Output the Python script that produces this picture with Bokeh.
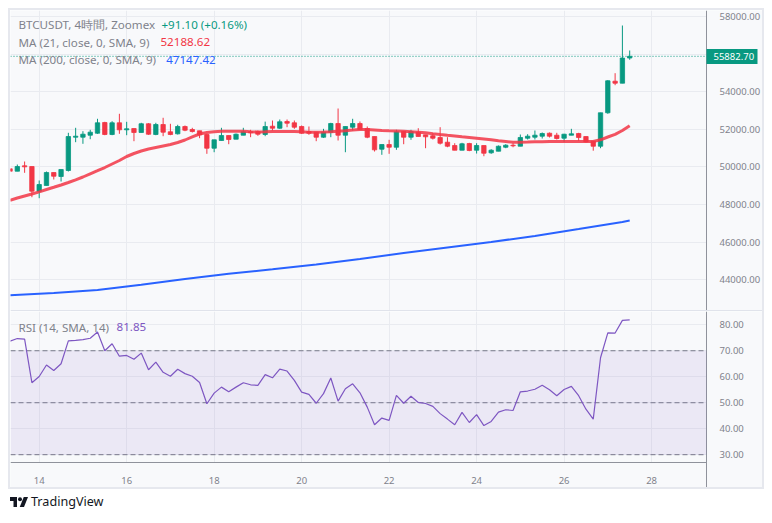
import pandas as pd
from bokeh.plotting import figure
from bokeh.layouts import column, row
from bokeh.models import (ColumnDataSource, Range1d, FixedTicker, NumeralTickFormatter,
                          Span, BoxAnnotation, Label, Div, Spacer, LinearAxis)
from bokeh.embed import file_html
from bokeh.resources import INLINE

# ---------------- data ----------------
times = pd.date_range("2024-02-13 08:00", periods=86, freq="4h")
day = list(times.day + times.hour / 24.0)

opens = [49899, 49771, 50057, 50021, 48707, 49010, 49702, 49490, 49808, 51580,
         51580, 51686, 51792, 52362, 51723, 52346, 51973, 52042, 51830, 52293,
         51723, 52255, 51867, 51760, 52149, 51989, 51920, 51723, 50994, 51404,
         51670, 51473, 51686, 51867, 51883, 51723, 52165, 52058, 52415, 52346,
         52149, 51883, 51846, 51580, 51846, 52308, 51686, 52112, 52308, 52042,
         51617, 50941, 51191, 51047, 51883, 51580, 51846, 51707, 51654, 51564,
         51314, 51138, 50888, 51244, 50888, 51138, 50750, 50835, 51047, 51154,
         51101, 51527, 51580, 51633, 51792, 51686, 51527, 51686, 51776, 51617,
         51367, 51101, 52878, 54559, 54452, 55791.6]
highs = [49899, 50127, 50287, 50021, 49277, 49755, 49702, 49862, 51814, 52080,
         51899, 51973, 52559, 52399, 52431, 52825, 52399, 52042, 52346, 52325,
         52346, 52612, 52293, 52240, 52202, 52080, 51920, 51760, 51441, 52080,
         51670, 51776, 52080, 51973, 51936, 52408, 52468, 52521, 52521, 52468,
         52202, 52149, 51846, 52026, 52346, 53106, 52149, 52559, 52415, 52149,
         51617, 51191, 51441, 51973, 51883, 51973, 52058, 51707, 51792, 52112,
         51580, 51260, 51281, 51281, 51260, 51138, 50941, 51138, 51207, 51260,
         51723, 51739, 51936, 51830, 51830, 51814, 51760, 52026, 51814, 51617,
         51367, 52878, 54612, 54984, 57521, 56192]
lows = [49771, 49771, 49686, 48388, 48335, 49010, 49330, 49223, 49755, 51314,
        51229, 51473, 51760, 51686, 51686, 51760, 51686, 51367, 51830, 51707,
        51686, 51633, 51686, 51723, 51899, 51830, 51527, 50696, 50781, 51404,
        51207, 51473, 51686, 51580, 51655, 51633, 51936, 52026, 52112, 52026,
        51760, 51707, 51367, 51548, 51580, 51404, 50781, 51936, 51989, 51527,
        50818, 50643, 50696, 50909, 51207, 51441, 51617, 50994, 51457, 51191,
        51047, 50888, 50888, 50835, 50712, 50568, 50696, 50835, 50994, 51047,
        51101, 51457, 51457, 51510, 51564, 51457, 51335, 51686, 51388, 51298,
        50861, 50994, 52825, 54346, 54452, 55697]
closes = [49771, 50021, 50004, 48707, 49064, 49702, 49505, 49862, 51617, 51633,
          51739, 51846, 52346, 51723, 52346, 51973, 52026, 51830, 52293, 51739,
          52255, 51846, 51723, 52149, 51952, 51883, 51707, 50994, 51441, 51670,
          51457, 51739, 51867, 51814, 51739, 52149, 52058, 52399, 52325, 52112,
          51792, 51792, 51580, 51846, 52308, 51686, 52149, 52308, 51989, 51580,
          50909, 51191, 51047, 51867, 51580, 51883, 51617, 51601, 51527, 51260,
          51101, 50888, 51229, 50872, 51138, 50728, 50888, 51101, 51154, 51122,
          51564, 51633, 51686, 51776, 51633, 51510, 51739, 51760, 51564, 51335,
          51101, 52878, 54580, 54452, 55791.6, 55882.7]

ma21 = [48223, 48346, 48452, 48558, 48675, 48798, 48915, 49037, 49170, 49314,
        49463, 49633, 49798, 49968, 50154, 50340, 50553, 50713, 50846, 50952,
        51032, 51112, 51191, 51298, 51431, 51601, 51750, 51830, 51872, 51893,
        51899, 51899, 51893, 51872, 51856, 51867, 51883, 51883, 51883, 51883,
        51867, 51846, 51846, 51856, 51872, 51899, 51920, 51963, 51989, 51989,
        51963, 51936, 51920, 51909, 51893, 51872, 51846, 51814, 51766, 51723,
        51681, 51643, 51601, 51564, 51526, 51484, 51441, 51388, 51351, 51314,
        51314, 51324, 51335, 51340, 51351, 51351, 51351, 51351, 51351, 51351,
        51351, 51441, 51590, 51734, 51936, 52188.62]

ma200_idx = [0, 6, 12, 18, 24, 30, 36, 42, 48, 54, 60, 66, 72, 78, 84, 85]
ma200_val = [43176, 43293, 43452, 43734, 44043, 44314, 44559, 44809, 45101,
             45420, 45713, 46005, 46330, 46697, 47069, 47147.42]

rsi = [73.7, 74.7, 74.5, 57.7, 60.1, 64.5, 62.4, 65.0, 73.8, 74.0,
       74.3, 74.8, 77.2, 70.0, 72.7, 67.9, 68.2, 66.7, 69.1, 62.7,
       65.6, 61.7, 60.2, 62.9, 61.2, 60.2, 57.8, 49.6, 53.7, 56.0,
       54.2, 56.0, 57.7, 56.9, 56.7, 60.8, 59.6, 62.9, 62.2, 58.6,
       54.1, 53.2, 49.8, 53.5, 59.5, 50.6, 55.4, 57.3, 53.8, 48.3,
       41.5, 44.1, 43.2, 52.8, 49.8, 52.5, 50.1, 49.7, 48.6, 45.8,
       43.7, 41.5, 46.3, 42.4, 45.4, 41.2, 42.8, 46.4, 47.3, 47.0,
       54.2, 54.5, 55.2, 56.7, 55.0, 52.7, 55.1, 56.3, 52.7, 47.5,
       43.7, 67.3, 76.9, 76.8, 81.7, 81.85]

last_price = 55882.70
price_ticks = [44000, 46000, 48000, 50000, 52000, 54000, 58000]
price_grid = [44000, 46000, 48000, 50000, 52000, 54000, 56000, 58000]
rsi_ticks = [30, 40, 50, 60, 70, 80]
rsi_levels = [70, 50, 30]
day_ticks = [14, 16, 18, 20, 22, 24, 26, 28]

# ---------------- style ----------------
BG = "#f8f9fb"
GRID = "#e9ebf0"
AXC = "#8f929b"
LBL = "#7f828b"
GREEN = "#089981"
RED = "#f23645"
BLUE = "#2962ff"
PURPLE = "#7e57c2"
FONT = "Noto Sans"
AX_FS = "9.5px"
LEG_FS = "11.6px"

# plotted time window; the price scale sits at X1, the frame continues to XE
X0, X1 = 13.344, 29.256
XE = X0 + (X1 - X0) * 752.0 / 696.0
xr = Range1d(X0, XE)

# RSI panel: visible pane is RSI_LO..RSI_HI, the time scale strip lies below RSI_LO
RSI_LO, RSI_HI = 27.0, 85.1
RSI_BOTTOM = RSI_LO - (RSI_HI - RSI_LO) * 25.0 / 151.0

def style(p):
    p.background_fill_color = BG
    p.border_fill_color = BG
    p.outline_line_color = None
    for ax in p.yaxis:
        ax.fixed_location = X1
        ax.axis_line_color = AXC
        ax.major_tick_line_color = None
        ax.minor_tick_line_color = None
        ax.major_label_text_color = LBL
        ax.major_label_text_font = FONT
        ax.major_label_text_font_size = AX_FS
        ax.major_label_standoff = 7
        ax.formatter = NumeralTickFormatter(format="0.00")
    p.xgrid.ticker = FixedTicker(ticks=day_ticks)
    p.xgrid.grid_line_color = GRID
    p.ygrid.grid_line_color = GRID
    # scale area to the right of the time window: plain background, no grid
    p.add_layout(BoxAnnotation(left=X1, fill_color=BG, fill_alpha=1.0,
                               line_color=None, level="underlay"))

# ---------------- price panel ----------------
p1 = figure(width=752, height=301, x_range=xr, y_range=Range1d(42309, 58319),
            y_axis_location="right", x_axis_location=None,
            output_backend="svg", toolbar_location=None,
            min_border_left=0, min_border_right=0, min_border_top=0, min_border_bottom=0)
p1.yaxis.ticker = FixedTicker(ticks=price_ticks)
p1.ygrid.ticker = FixedTicker(ticks=price_grid)
style(p1)

cols = [GREEN if c >= o else RED for o, c in zip(opens, closes)]
src = ColumnDataSource(dict(x=day, o=opens, h=highs, l=lows, c=closes,
                            top=[max(o, c) for o, c in zip(opens, closes)],
                            bot=[min(o, c) for o, c in zip(opens, closes)],
                            col=cols))
p1.segment(x0="x", y0="l", x1="x", y1="h", line_color="col", line_width=1, source=src)
p1.vbar(x="x", width=0.1, top="top", bottom="bot", fill_color="col",
        line_color="col", line_width=0.8, source=src)

p1.line(day, ma21, line_color=RED, line_width=3, line_alpha=0.85)
p1.line([day[i] for i in ma200_idx], ma200_val, line_color=BLUE, line_width=2)

# last price: dotted line across the time window + tag on the price scale
p1.line([X0, X1], [last_price, last_price], line_color=GREEN, line_dash="1 2", line_width=1)
tag = LinearAxis(fixed_location=X1, ticker=FixedTicker(ticks=[last_price]),
                 formatter=NumeralTickFormatter(format="0.00"))
tag.axis_line_color = None
tag.minor_tick_line_color = None
tag.major_tick_in = 0
tag.major_tick_out = 51
tag.major_tick_line_color = GREEN
tag.major_tick_line_width = 15
tag.major_tick_line_cap = "butt"
tag.major_label_standoff = -44
tag.major_label_text_color = "white"
tag.major_label_text_font = FONT
tag.major_label_text_font_size = AX_FS
p1.add_layout(tag, "right")

def leg(p, x, y, text, color):
    p.add_layout(Label(x=x, y=y, text=text, text_align="left", text_baseline="middle",
                       text_color=color, text_font=FONT, text_font_size=LEG_FS))

leg(p1, 13.527, 57558, "BTCUSDT, 4時間, Zoomex", LBL)
leg(p1, 16.796, 57558, "+91.10 (+0.16%)", GREEN)
leg(p1, 13.527, 56633, "MA (21, close, 0, SMA, 9)", LBL)
leg(p1, 16.773, 56633, "52188.62", RED)
leg(p1, 13.527, 55697, "MA (200, close, 0, SMA, 9)", LBL)
leg(p1, 16.903, 55697, "47147.42", BLUE)
p1.add_layout(Span(location=42330, dimension="width", line_color="#e0e3eb", line_width=2))

# ---------------- RSI panel ----------------
p2 = figure(width=752, height=176, x_range=xr, y_range=Range1d(RSI_BOTTOM, RSI_HI),
            y_axis_location="right", output_backend="svg", toolbar_location=None,
            min_border_left=0, min_border_right=0, min_border_top=0, min_border_bottom=0)
p2.yaxis.ticker = FixedTicker(ticks=rsi_ticks)
p2.ygrid.ticker = FixedTicker(ticks=rsi_ticks)
style(p2)
# time-scale strip: plain background below the pane
p2.add_layout(BoxAnnotation(top=RSI_LO, fill_color=BG, fill_alpha=1.0,
                            line_color=None, level="underlay"))
xa = p2.xaxis[0]
xa.fixed_location = RSI_LO
xa.ticker = FixedTicker(ticks=day_ticks)
xa.bounds = (X0, X1)
xa.axis_line_color = AXC
xa.major_tick_line_color = None
xa.minor_tick_line_color = None
xa.major_label_text_color = LBL
xa.major_label_text_font = FONT
xa.major_label_text_font_size = AX_FS
xa.major_label_standoff = 8

p2.add_layout(BoxAnnotation(bottom=30, top=70, right=X1, fill_color=PURPLE,
                            fill_alpha=0.1, line_color=None))
p2.segment(x0=X0, x1=X1, y0=rsi_levels, y1=rsi_levels, line_color="#787b86",
           line_dash="5 3", line_width=1)
p2.line(day, rsi, line_color=PURPLE, line_width=1.2)
leg(p2, 13.527, 79.06, "RSI (14, SMA, 14)", LBL)
leg(p2, 15.769, 79.06, "81.85", PURPLE)

charts = column(p1, p2, styles={"outline": "2px solid #e6e8ee"})

logo_html = (
    '<div style="display:flex;align-items:center;font-family:\'Noto Sans\';'
    'font-size:12.6px;color:#131722;">'
    '<svg width="18" height="10" viewBox="0 0 36 20" style="margin-right:3px">'
    '<path d="M14 20H7V8H0V0h14v20z" fill="#131722"/>'
    '<circle cx="20" cy="4.5" r="4" fill="#131722"/>'
    '<path d="M28 20h-8.5L27.5 0H36L28 20z" fill="#131722"/></svg>'
    '<span>TradingView</span></div>'
)
logo = Div(text=logo_html, width=300, height=26,
           styles={"margin-left": "10px", "margin-top": "6px"})

layout = column(Spacer(height=10), row(Spacer(width=10), charts), logo)
open("out.html", "w").write(file_html(layout, INLINE))
